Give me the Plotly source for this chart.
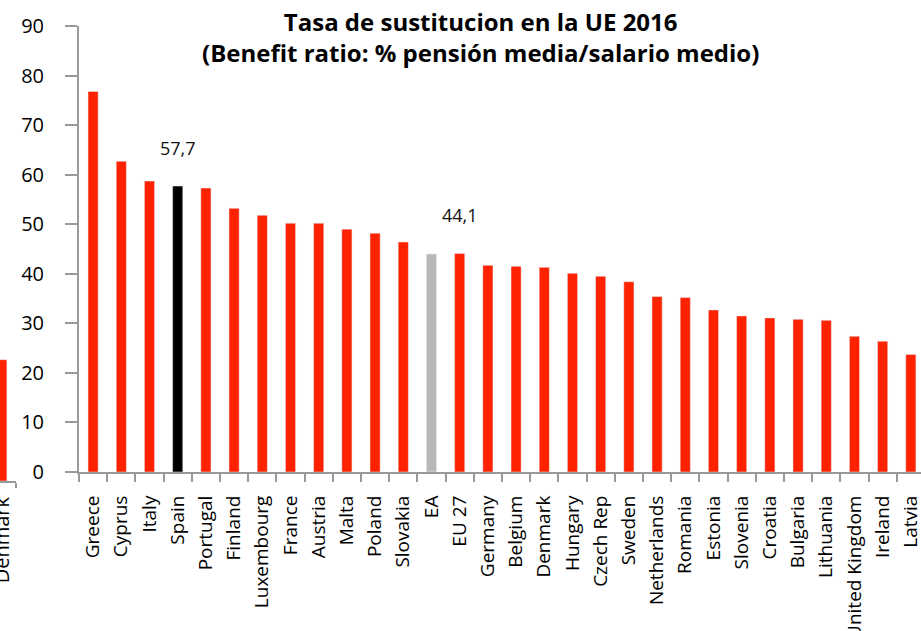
import plotly.graph_objects as go

# datos: tasa de sustitución UE 2016
paises = ["Greece", "Cyprus", "Italy", "Spain", "Portugal", "Finland", "Luxembourg",
          "France", "Austria", "Malta", "Poland", "Slovakia", "EA", "EU 27", "Germany",
          "Belgium", "Denmark", "Hungary", "Czech Rep", "Sweden", "Netherlands",
          "Romania", "Estonia", "Slovenia", "Croatia", "Bulgaria", "Lithuania",
          "United Kingdom", "Ireland", "Latvia"]
valores = [76.8, 62.7, 58.7, 57.7, 57.3, 53.2, 51.8, 50.2, 50.2, 49.0, 48.2, 46.4,
           44.0, 44.1, 41.7, 41.5, 41.3, 40.1, 39.5, 38.4, 35.4, 35.2, 32.7, 31.5,
           31.1, 30.8, 30.6, 27.4, 26.4, 23.7]
destacados = {"Spain": "57,7", "EU 27": "44,1"}

# fragmento de otro gráfico recortado a la izquierda
frag_pais = ["Denmark"]
frag_valor = [24.0]

ROJO = "#ff2200"
colores = []
for p in paises:
    if p == "Spain":
        colores.append("#000000")
    elif p == "EA":
        colores.append("#b8b8b8")
    else:
        colores.append(ROJO)

W, H = 921, 631
T, B = 26, 141          # margen superior / inferior en px
ALTO = H - T - B        # alto del área de trazado
FUENTE = "Open Sans"

fig = go.Figure()

fig.add_trace(go.Bar(x=frag_pais, y=frag_valor, marker_color=ROJO, width=0.35,
                     xaxis="x2", yaxis="y2", showlegend=False, hoverinfo="skip"))

fig.add_trace(go.Bar(x=paises, y=valores, marker_color=colores, width=0.36,
                     showlegend=False))

for p, txt in destacados.items():
    fig.add_annotation(x=p, y=valores[paises.index(p)], text=txt, showarrow=False,
                       yanchor="middle", yshift=38, xref="x", yref="y",
                       font=dict(family=FUENTE, size=18, color="#111111"))

# título como anotación (dos líneas, en negrita)
fig.add_annotation(text="<b>Tasa de sustitucion en la UE 2016<br>(Benefit ratio: % pensión media/salario medio)</b>",
                   xref="paper", yref="paper", x=480 / W, y=(H - B - 3) / ALTO,
                   xanchor="center", yanchor="top", showarrow=False,
                   font=dict(family=FUENTE, size=24, color="#000000"))

gris = "#9a9a9a"
fig.update_layout(
    width=W, height=H,
    barmode="overlay",
    margin=dict(l=0, r=0, t=T, b=B, autoexpand=False),
    paper_bgcolor="white", plot_bgcolor="white",
    font=dict(family=FUENTE, color="#000000"),
    xaxis=dict(domain=[79 / W, 1], type="category", range=[-0.5, 29.36],
               showline=True, linecolor=gris, linewidth=2,
               ticks="outside", tickson="boundaries", ticklen=8, tickcolor=gris, tickwidth=2,
               tickangle=-90, tickfont=dict(family=FUENTE, size=19, color="#000000"),
               ticklabelstandoff=14, showgrid=False, anchor="y", automargin=False),
    yaxis=dict(domain=[18 / ALTO, 1], range=[0, 90], dtick=10,
               showline=True, linecolor=gris, linewidth=2,
               ticks="outside", ticklen=12, tickcolor=gris, tickwidth=2,
               tickfont=dict(family=FUENTE, size=20, color="#000000"),
               ticklabelstandoff=17, showgrid=False, zeroline=False, anchor="x",
               automargin=False),
    xaxis2=dict(domain=[0, 16 / W], type="category", range=[-0.0714, 0.5],
                showline=True, linecolor=gris, linewidth=2,
                ticks="outside", tickson="boundaries", ticklen=5, tickcolor=gris, tickwidth=2,
                tickangle=-90, tickfont=dict(family=FUENTE, size=20, color="#000000"),
                ticklabelstandoff=6, showgrid=False, anchor="y2", automargin=False),
    yaxis2=dict(domain=[9 / ALTO, 1], range=[0, 90], visible=False, anchor="x2",
                automargin=False),
)

# quitar el margen por defecto del <body> y ocultar la barra de herramientas
fig.write_html("out.html", config={"displayModeBar": False},
               post_script="document.body.style.margin='0px';")
